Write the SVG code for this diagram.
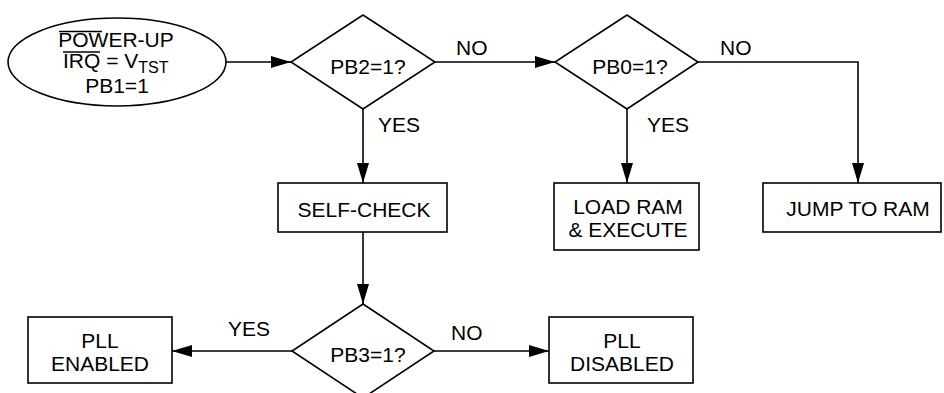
<svg xmlns="http://www.w3.org/2000/svg" width="944" height="393" viewBox="0 0 944 393">
<defs>
<style>
.s{fill:#fff;stroke:#000;stroke-width:1.6}
.c{fill:none;stroke:#000;stroke-width:1.6}
text{font-family:"Liberation Sans",Arial,sans-serif;font-size:21px;fill:#000}
.m{text-anchor:middle}
</style>
<marker id="a" markerUnits="userSpaceOnUse" markerWidth="20" markerHeight="12" refX="20" refY="6" orient="auto">
<path d="M0,0 L20,6 L0,12 z" fill="#000"/>
</marker>
</defs>
<g id="connectors">
<line class="c" x1="226" y1="62" x2="291" y2="62" marker-end="url(#a)"/>
<line class="c" x1="435" y1="62" x2="555" y2="62" marker-end="url(#a)"/>
<polyline class="c" points="698,62 858,62 858,183" marker-end="url(#a)"/>
<line class="c" x1="363" y1="109" x2="363" y2="183" marker-end="url(#a)"/>
<line class="c" x1="627" y1="109" x2="627" y2="183" marker-end="url(#a)"/>
<line class="c" x1="363" y1="232" x2="363" y2="304" marker-end="url(#a)"/>
<line class="c" x1="292" y1="351" x2="172" y2="351" marker-end="url(#a)"/>
<line class="c" x1="434" y1="351" x2="549" y2="351" marker-end="url(#a)"/>
<text x="456" y="55">NO</text>
<text x="720" y="55">NO</text>
<text x="378" y="132">YES</text>
<text x="647" y="132">YES</text>
<text x="228" y="336">YES</text>
<text x="451" y="340">NO</text>
</g>
<g id="start">
<ellipse class="s" cx="117" cy="62" rx="109" ry="44"/>
<text class="m" x="116" y="47">POWER-UP</text>
<line x1="59" y1="31.5" x2="102" y2="31.5" stroke="#000" stroke-width="1.4"/>
<text x="63" y="68">IRQ = V<tspan font-size="16" dy="5">TST</tspan></text>
<line x1="63" y1="52" x2="100" y2="52" stroke="#000" stroke-width="1.4"/>
<text class="m" x="117" y="93">PB1=1</text>
</g>
<g id="pb2">
<polygon class="s" points="363,15 435,62 363,109 291,62"/>
<text class="m" x="368" y="74">PB2=1?</text>
</g>
<g id="pb0">
<polygon class="s" points="627,15 698,62 627,109 555,62"/>
<text class="m" x="630" y="74">PB0=1?</text>
</g>
<g id="selfcheck">
<rect class="s" x="278" y="183" width="169" height="49"/>
<text class="m" x="364" y="217">SELF-CHECK</text>
</g>
<g id="loadram">
<rect class="s" x="554" y="183" width="145" height="67"/>
<text class="m" x="628" y="214">LOAD RAM</text>
<text class="m" x="628" y="237">&amp; EXECUTE</text>
</g>
<g id="jumpram">
<rect class="s" x="763" y="183" width="178" height="49"/>
<text class="m" x="858" y="216">JUMP TO RAM</text>
</g>
<g id="pb3">
<polygon class="s" points="363,304 434,351 363,398 292,351"/>
<text class="m" x="368" y="362">PB3=1?</text>
</g>
<g id="pllenabled">
<rect class="s" x="28" y="317" width="144" height="66"/>
<text class="m" x="100" y="348">PLL</text>
<text class="m" x="100" y="371">ENABLED</text>
</g>
<g id="plldisabled">
<rect class="s" x="549" y="317" width="144" height="66"/>
<text class="m" x="622" y="348">PLL</text>
<text class="m" x="622" y="371">DISABLED</text>
</g>
</svg>
